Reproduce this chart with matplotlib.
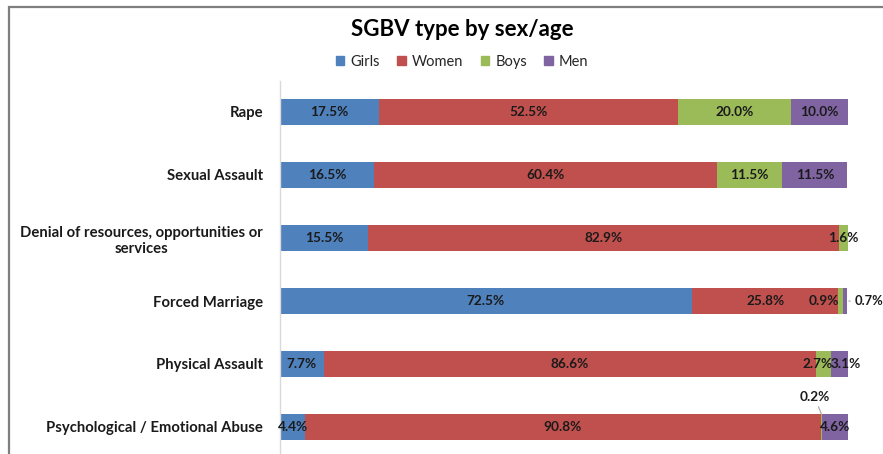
import numpy as np
import matplotlib.pyplot as plt
from matplotlib.patches import Patch, Rectangle

# data
categories = ['Rape', 'Sexual Assault', 'Denial of resources, opportunities or\nservices',
              'Forced Marriage', 'Physical Assault', 'Psychological / Emotional Abuse']
groups = ['Girls', 'Women', 'Boys', 'Men']
girls = [17.5, 16.5, 15.5, 72.5, 7.7, 4.4]
women = [52.5, 60.4, 82.9, 25.8, 86.6, 90.8]
boys = [20.0, 11.5, 1.6, 0.9, 2.7, 0.2]
men = [10.0, 11.5, 0.0, 0.7, 3.1, 4.6]
colors = ['#4F81BD', '#C0504D', '#9BBB59', '#8064A2']

W, H = 883, 454
plt.rcParams['font.family'] = ['Lato', 'DejaVu Sans']
fig = plt.figure(figsize=(W / 100, H / 100), dpi=100)

# chart border (top/left visible, rest cropped)
fig.patches.append(Rectangle((9 / W, -0.1), 1.2, 1 - 7 / H + 0.1, transform=fig.transFigure,
                             fill=False, edgecolor='#7f7f7f', linewidth=1.6))

top_px = 80.5
ax = fig.add_axes([280 / W, 0, 568 / W, (H - top_px) / H])
y = np.arange(len(categories))
series = [girls, women, boys, men]
left = np.zeros(len(categories))
text_c = '#1a1a1a'
fs = 9.8
for vals, col, name in zip(series, colors, groups):
    vals = np.array(vals)
    ax.barh(y, vals, left=left, height=0.42, color=col, label=name)
    for i, v in enumerate(vals):
        if v <= 0:
            continue
        cx = left[i] + v / 2
        dx = 0
        lbl = f'{v:.1f}%'
        if name == 'Boys' and i == 3:
            dx = -12
        elif name == 'Boys' and i == 4:
            dx = -4
        elif name == 'Men' and i == 4:
            dx = 4
        elif name == 'Men' and i == 3:
            # small slice: label outside with a short leader
            ax.annotate(lbl, xy=(left[i] + v, y[i]), xytext=(5, 0), textcoords='offset points',
                        ha='left', va='center', fontsize=9.3, fontweight='bold', color=text_c,
                        arrowprops=dict(arrowstyle='-', color='#a6a6a6', lw=0.8,
                                        shrinkA=1, shrinkB=1), annotation_clip=False)
            continue
        elif name == 'Boys' and i == 5:
            ax.annotate(lbl, xy=(cx, y[i] - 0.21), xytext=(-5, 8), textcoords='offset points',
                        ha='center', va='bottom', fontsize=fs, fontweight='bold', color=text_c,
                        arrowprops=dict(arrowstyle='-', color='#a6a6a6', lw=0.8,
                                        shrinkA=1, shrinkB=0), annotation_clip=False)
            continue
        ax.annotate(lbl, xy=(cx, y[i]), xytext=(dx, 0), textcoords='offset points',
                    ha='center', va='center', fontsize=fs, fontweight='bold', color=text_c,
                    annotation_clip=False)
    left += vals

ax.set_xlim(0, 100)
ax.set_ylim((H - 112) / 63, -0.5)
ax.set_yticks(y)
ax.set_yticklabels(categories, fontsize=10.7, fontweight='bold', color=text_c,
                   linespacing=1.2, multialignment='center')
ax.tick_params(axis='y', length=0, pad=12)
ax.set_xticks([])
for s in ['top', 'right', 'bottom']:
    ax.spines[s].set_visible(False)
ax.spines['left'].set_color('#d9d9d9')
ax.spines['left'].set_linewidth(1)

fig.text(462 / W, 1 - 29 / H, 'SGBV type by sex/age', ha='center', va='center',
         fontsize=16, fontweight='bold', color='#000000')
handles = [Patch(color=c, label=g) for c, g in zip(colors, groups)]
fig.legend(handles=handles, loc='center', bbox_to_anchor=(462 / W, 1 - 62 / H), ncol=4,
           frameon=False, fontsize=10.5, handlelength=0.6, handleheight=0.6,
           handletextpad=0.4, columnspacing=1.2, labelcolor='#262626')

fig.savefig('out.png', dpi=100)
